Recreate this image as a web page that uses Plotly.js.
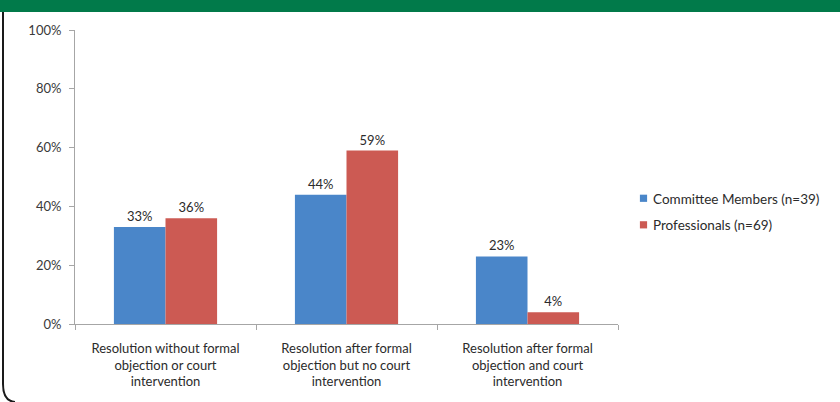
<!DOCTYPE html>
<html>
<head>
<meta charset="utf-8">
<script src="https://cdn.plot.ly/plotly-3.0.1.min.js"></script>
<style>html,body{margin:0;padding:0;background:#fff;}#chart{width:840px;height:402px;}</style>
</head>
<body>
<div id="chart"></div>
<script>
const categories = [
  "Resolution without formal<br>objection or court<br>intervention",
  "Resolution after formal<br>objection but no court<br>intervention",
  "Resolution after formal<br>objection and court<br>intervention"
];
const seriesNames = ["Committee Members (n=39)", "Professionals (n=69)"];
const committeeValues = [33, 44, 23];
const professionalValues = [36, 59, 4];
const yTicks = [0, 20, 40, 60, 80, 100];

const W = 840, H = 402, L = 75, R = 618, T = 30, B = 324;
const px = x => (x - L) / (R - L);
const py = y => (B - y) / (B - T);

const FONT = "Lato, 'Open Sans', sans-serif";
const TXT = '#2b2b2b';

const traces = [
  {type: 'bar', name: seriesNames[0], x: categories, y: committeeValues,
   marker: {color: '#4a86c9'}, text: committeeValues.map(v => v + '%'),
   textposition: 'outside', cliponaxis: false, legendgroup: 'a',
   textfont: {family: FONT, size: 13, color: TXT}},
  {type: 'bar', name: seriesNames[1], x: categories, y: professionalValues,
   marker: {color: '#cc5a53'}, text: professionalValues.map(v => v + '%'),
   textposition: 'outside', cliponaxis: false, legendgroup: 'b',
   textfont: {family: FONT, size: 13, color: TXT}}
];

const layout = {
  width: W, height: H,
  margin: {l: L, r: W - R, t: T, b: H - B},
  paper_bgcolor: '#fff', plot_bgcolor: '#fff',
  font: {family: FONT, size: 13, color: TXT},
  barmode: 'group', bargap: 0.43, bargroupgap: 0,
  showlegend: true,
  legend: {x: px(613), xanchor: 'left', y: py(183), yanchor: 'top',
           font: {family: FONT, size: 13.5, color: TXT},
           traceorder: 'grouped', tracegroupgap: 6, itemwidth: 30},
  xaxis: {type: 'category', showline: true, linecolor: '#a6a6a6', linewidth: 1,
          ticks: 'outside', tickson: 'boundaries', ticklen: 5, tickcolor: '#a6a6a6',
          showgrid: false, zeroline: false, ticklabelstandoff: 12,
          tickfont: {family: FONT, size: 13, color: TXT}},
  yaxis: {range: [0, 100], tickvals: yTicks, ticktext: yTicks.map(v => v + '%'),
          showline: true, linecolor: '#a6a6a6', linewidth: 1,
          ticks: 'outside', ticklen: 5, tickcolor: '#a6a6a6',
          showgrid: false, zeroline: false, ticklabelstandoff: 5,
          tickfont: {family: FONT, size: 13, color: '#3a3a3a'}},
  shapes: [
    {type: 'rect', xref: 'paper', yref: 'paper', x0: px(0), x1: px(W), y0: py(12), y1: py(0),
     fillcolor: '#017a4a', line: {width: 0}, layer: 'above'},
    {type: 'path', xref: 'paper', yref: 'paper',
     path: `M ${px(3)} ${py(12)} L ${px(3)} ${py(384)} Q ${px(3)} ${py(401)} ${px(15)} ${py(402)}`,
     line: {color: '#1a1a1a', width: 2}}
  ]
};

Plotly.newPlot('chart', traces, layout, {displayModeBar: false, staticPlot: true}).then(gd => {
  gd.querySelectorAll('.legend .legendpoints path').forEach(p => {
    p.setAttribute('transform', 'translate(30.5,0) scale(0.6)');
  });
});
</script>
</body>
</html>
